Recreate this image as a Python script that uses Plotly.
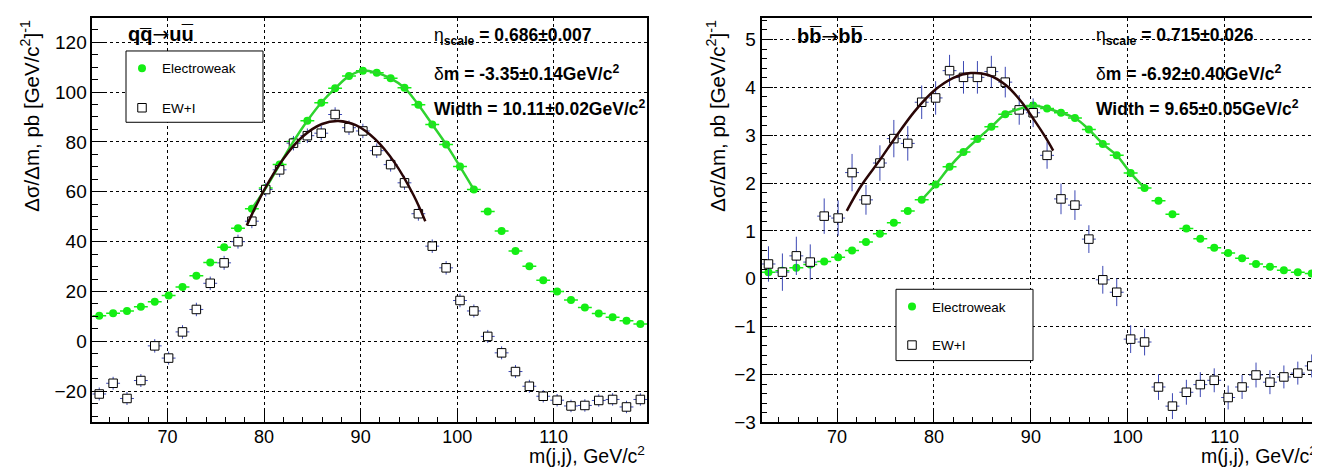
import plotly.graph_objects as go

# ---------------- data ----------------
bin_lo = 62.2          # lower edge of first m(j,j) bin, GeV/c^2
bin_width = 1.4375     # bin width, GeV/c^2
n_bins = 40
mass = [bin_lo + bin_width * (i + 0.5) for i in range(n_bins)]

# left panel: q qbar -> u ubar
ew_uu = [10.3, 11.3, 12.2, 13.9, 15.9, 18.4, 21.8, 26.3, 31.6, 37.8,
         45.4, 53.2, 61.5, 70.9, 80.2, 88.5, 95.7, 101.5, 106.4, 108.6,
         107.7, 105.5, 101.7, 94.9, 87.0, 79.0, 70.1, 60.9, 52.1, 44.3,
         36.3, 30.1, 24.5, 20.0, 16.6, 13.6, 11.2, 9.7, 8.3, 7.0]
ewi_uu = [-21.1, -16.8, -22.9, -15.7, -1.8, -6.7, 3.8, 12.8, 23.3, 31.5,
          40.0, 48.2, 60.9, 68.8, 79.5, 82.5, 83.5, 91.0, 85.7, 84.4,
          76.5, 70.9, 63.6, 51.2, 38.2, 29.5, 16.4, 12.2, 2.0, -4.6,
          -12.1, -18.0, -22.0, -23.6, -25.9, -25.7, -23.7, -23.3, -26.3, -23.3]
ewi_uu_err = [2.6, 2.6, 2.6, 2.6, 2.7, 2.6, 2.7, 2.7, 2.7, 2.8,
              2.8, 2.8, 2.8, 2.9, 2.9, 2.9, 2.9, 2.9, 2.9, 2.9,
              2.9, 2.8, 2.8, 2.8, 2.7, 2.7, 2.7, 2.6, 2.6, 2.6,
              2.6, 2.6, 2.5, 2.5, 2.5, 2.5, 2.5, 2.5, 2.5, 2.5]
fit_x_uu = [78.2, 80.0, 82.0, 84.0, 86.0, 87.7, 89.5, 91.5, 93.5, 95.5, 96.7]
fit_y_uu = [46.5, 60.7, 73.3, 82.2, 87.2, 88.4, 86.7, 81.1, 71.8, 58.5, 48.2]

# right panel: b bbar -> b bbar
ew_bb = [0.14, 0.17, 0.23, 0.30, 0.36, 0.45, 0.59, 0.77, 0.94, 1.17,
         1.42, 1.65, 1.97, 2.34, 2.65, 2.92, 3.18, 3.44, 3.55, 3.62,
         3.56, 3.47, 3.36, 3.12, 2.82, 2.58, 2.21, 1.90, 1.63, 1.35,
         1.05, 0.84, 0.65, 0.54, 0.43, 0.31, 0.25, 0.18, 0.14, 0.11]
ewi_bb = [0.31, 0.14, 0.48, 0.35, 1.31, 1.27, 2.22, 1.65, 2.42, 2.93,
          2.83, 3.69, 3.78, 4.35, 4.21, 4.21, 4.33, 4.11, 3.53, 3.47,
          2.58, 1.67, 1.54, 0.83, -0.02, -0.28, -1.26, -1.32, -2.26, -2.66,
          -2.37, -2.21, -2.12, -2.48, -2.26, -2.01, -2.16, -2.05, -1.97, -1.82]
ewi_bb_err = [0.37, 0.39, 0.40, 0.37, 0.37, 0.37, 0.39, 0.31, 0.37, 0.39,
              0.36, 0.35, 0.35, 0.33, 0.34, 0.34, 0.33, 0.32, 0.31, 0.30,
              0.28, 0.32, 0.31, 0.29, 0.29, 0.29, 0.29, 0.28, 0.27, 0.27,
              0.26, 0.26, 0.25, 0.25, 0.25, 0.26, 0.25, 0.24, 0.24, 0.24]
fit_x_bb = [71.0, 72.5, 74.4, 76.0, 78.0, 80.0, 82.0, 83.8, 85.6, 87.4, 89.1, 90.4, 91.5, 92.3]
fit_y_bb = [1.42, 1.95, 2.48, 2.95, 3.50, 3.93, 4.20, 4.30, 4.26, 4.05, 3.68, 3.30, 2.96, 2.68]

ew_fit_first, ew_fit_last = 11, 27   # bins covered by the Electroweak fit line

x_tick_vals = [70, 80, 90, 100, 110]

# ---------------- style ----------------
W, H = 1320, 472
FONT = "Liberation Sans, Arial, Helvetica, sans-serif"
GREEN = "#14ee14"
GREEN_LINE = "#2ed42e"
BLUE = "#3c48b4"
FITC = "#2a0606"

def px_x(p):
    return p / W

def px_y(p):
    return 1 - p / H

fig = go.Figure()

panels = [
    dict(xa="x", ya="y", leg="legend", ew=ew_uu, ewi=ewi_uu, err=ewi_uu_err,
         fx=fit_x_uu, fy=fit_y_uu),
    dict(xa="x2", ya="y2", leg="legend2", ew=ew_bb, ewi=ewi_bb, err=ewi_bb_err,
         fx=fit_x_bb, fy=fit_y_bb),
]

for k, p in enumerate(panels):
    fig.add_trace(go.Scatter(
        x=mass, y=p["ew"], mode="markers", name="Electroweak",
        legendgroup=f"ew{k}", legend=p["leg"],
        marker=dict(symbol="circle", size=8, color=GREEN),
        error_x=dict(type="constant", value=bin_width / 2, color=GREEN,
                     thickness=1.5, width=0),
        xaxis=p["xa"], yaxis=p["ya"]))
    fig.add_trace(go.Scatter(
        x=mass, y=p["ewi"], mode="markers", name="EW+I",
        legendgroup=f"ewi{k}", legend=p["leg"],
        marker=dict(symbol="square", size=8.5, color="white",
                    line=dict(color="black", width=1)),
        error_x=dict(type="constant", value=bin_width / 2, color=BLUE,
                     thickness=1, width=0),
        error_y=dict(type="data", array=p["err"], color=BLUE,
                     thickness=1, width=0),
        xaxis=p["xa"], yaxis=p["ya"]))
    fig.add_trace(go.Scatter(
        x=mass[ew_fit_first:ew_fit_last + 1], y=p["ew"][ew_fit_first:ew_fit_last + 1],
        mode="lines", line=dict(color=GREEN_LINE, width=2.5, shape="spline"),
        showlegend=False, hoverinfo="skip", xaxis=p["xa"], yaxis=p["ya"]))
    fig.add_trace(go.Scatter(
        x=p["fx"], y=p["fy"], mode="lines",
        line=dict(color=FITC, width=2.5, shape="spline"),
        showlegend=False, hoverinfo="skip", xaxis=p["xa"], yaxis=p["ya"]))

axis_common = dict(
    showline=True, linecolor="black", linewidth=1.5, mirror=True,
    showgrid=True, gridcolor="black", gridwidth=1, griddash="dot",
    zeroline=False, ticks="inside", ticklen=12, tickwidth=1, tickcolor="black",
)
yfont = dict(family=FONT, size=19, color="black")
xfont = dict(family=FONT, size=18, color="black")

xdom1 = [px_x(84.3), px_x(639.3)]
xdom2 = [px_x(753.5), px_x(1310.7)]
ydom = [px_y(424.3), px_y(10)]

legend_common = dict(xanchor="left", yanchor="top",
                     bgcolor="rgba(0,0,0,0)", borderwidth=0,
                     font=dict(family=FONT, size=13.5, color="black"),
                     traceorder="grouped", itemwidth=30)

xminor = dict(dtick=2, tick0=0, ticks="inside", ticklen=6,
              tickcolor="black", showgrid=False)

fig.update_layout(
    width=W, height=H,
    margin=dict(l=0, r=0, t=0, b=0),
    paper_bgcolor="white", plot_bgcolor="white",
    font=dict(family=FONT, color="black"),
    xaxis=dict(domain=xdom1, range=[62.2, 119.7], tickvals=x_tick_vals,
               minor=xminor, anchor="y", tickfont=xfont, ticklabelstandoff=-3,
               **axis_common),
    yaxis=dict(domain=ydom, range=[-32.5, 129.8], dtick=20, tick0=0,
               minor=dict(dtick=5, tick0=0, ticks="inside", ticklen=6,
                          tickcolor="black", showgrid=False), anchor="x",
               tickfont=yfont, **axis_common),
    xaxis2=dict(domain=xdom2, range=[62.2, 119.7], tickvals=x_tick_vals,
                minor=xminor, anchor="y2", tickfont=xfont, ticklabelstandoff=-3,
                **axis_common),
    yaxis2=dict(domain=ydom, range=[-3.0, 5.455], dtick=1, tick0=0,
                minor=dict(dtick=0.2, tick0=0, ticks="inside", ticklen=6,
                           tickcolor="black", showgrid=False), anchor="x2",
                tickfont=yfont, **axis_common),
    legend=dict(x=px_x(114), y=px_y(46), tracegroupgap=19, **legend_common),
    legend2=dict(x=px_x(884), y=px_y(290), tracegroupgap=18, **legend_common),
)

# opaque legend frames (white boxes with a black border) under the legends
for (x0, y0, x1, y1) in [(118, 44, 255, 117), (888, 288, 1025, 361)]:
    fig.add_shape(type="rect", xref="paper", yref="paper",
                  x0=px_x(x0), x1=px_x(x1), y0=px_y(y1), y1=px_y(y0),
                  line=dict(color="black", width=1), fillcolor="white",
                  layer="above")

ann = []
def add_text(text, x, y, size, xanchor="left", yanchor="middle", angle=0):
    ann.append(dict(text=text, x=px_x(x), y=px_y(y), xref="paper", yref="paper",
                    xanchor=xanchor, yanchor=yanchor, showarrow=False,
                    textangle=angle, font=dict(family=FONT, size=size, color="black")))

ARROW = "<span style='font-family:DejaVu Sans;font-weight:normal'>\u2192</span>"
# process labels
add_text("<b>qq\u0305</b>" + ARROW + "<b>uu\u0305</b>", 118, 27, 20)
add_text("<b>bb\u0305</b>" + ARROW + "<b>bb\u0305</b>", 787, 29, 20)

# fit results
stats = [
    (424, ["\u03b7<sub><b>scale</b></sub><b> = 0.686\u00b10.007</b>",
           "\u03b4<b>m = -3.35\u00b10.14GeV/c<sup>2</sup></b>",
           "<b>Width = 10.11\u00b10.02GeV/c<sup>2</sup></b>"]),
    (1086, ["\u03b7<sub><b>scale</b></sub><b> = 0.715\u00b10.026</b>",
            "\u03b4<b>m = -6.92\u00b10.40GeV/c<sup>2</sup></b>",
            "<b>Width = 9.65\u00b10.05GeV/c<sup>2</sup></b>"]),
]
for x0, lines in stats:
    for txt, yy in zip(lines, [29, 67, 102]):
        add_text(txt, x0, yy, 17.5)

# axis titles
ytitle = "\u0394\u03c3/\u0394m, pb [GeV/c<sup>2</sup>]<sup>-1</sup>"
add_text(ytitle, 22, 10, 20.5, xanchor="center", yanchor="top", angle=-90)
add_text(ytitle, 708, 10, 20.5, xanchor="center", yanchor="top", angle=-90)
xtitle = "m(j,j), GeV/c<sup>2</sup>"
add_text(xtitle, 639.3, 472, 19.5, xanchor="right", yanchor="bottom")
add_text(xtitle, 1310.7, 472, 19.5, xanchor="right", yanchor="bottom")

fig.update_layout(annotations=ann)

fig.write_html("out.html")
